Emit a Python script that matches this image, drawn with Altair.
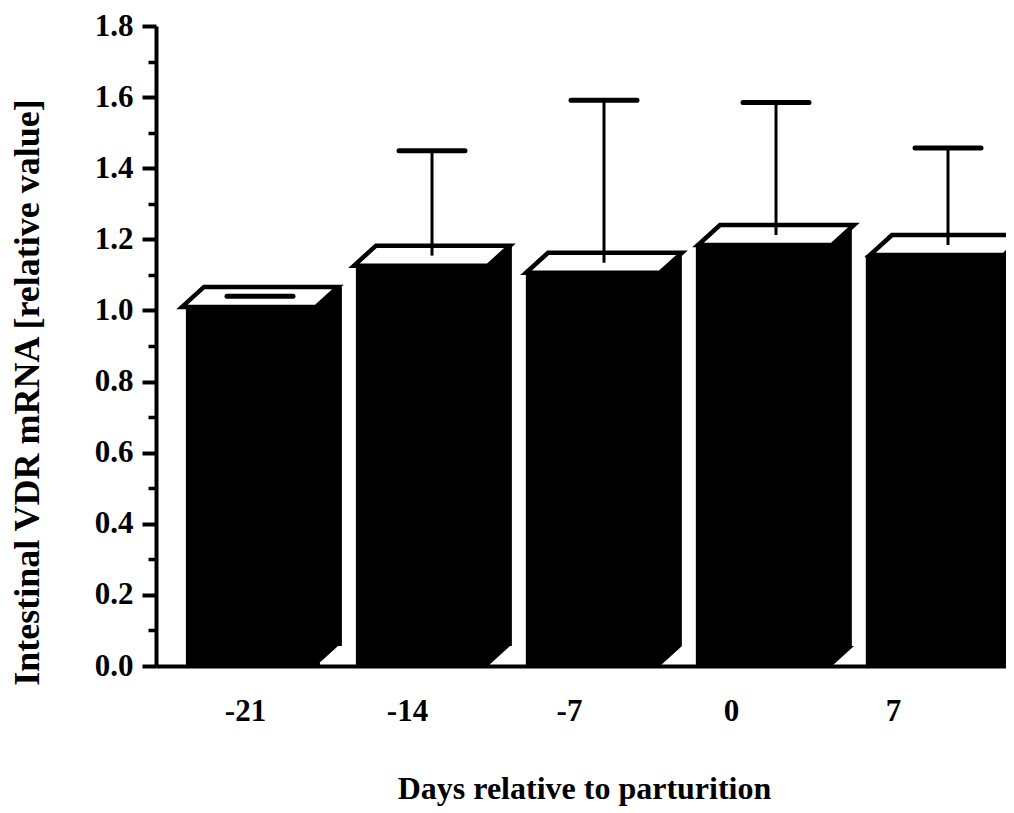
import altair as alt
import pandas as pd

# ---- data ----
days = [-21, -14, -7, 0, 7]
vdr_mean = [1.01, 1.126, 1.106, 1.184, 1.156]
vdr_upper = [1.012, 1.421, 1.563, 1.557, 1.429]

y_ticks = [0.0, 0.2, 0.4, 0.6, 0.8, 1.0, 1.2, 1.4, 1.6, 1.8]
y_minor = [0.1, 0.3, 0.5, 0.7, 0.9, 1.1, 1.3, 1.5, 1.7]

df = pd.DataFrame({"day": days, "mean": vdr_mean, "upper": vdr_upper,
                   "zero": [0.0] * len(days)})

FONT = "Liberation Serif"
BAR_W = 134
DX, DY = 22, 20

x_bar = alt.Scale(domain=[-24.785, 9.808], nice=False, zero=False)
x_lab = alt.Scale(domain=[-24.846, 11.882], nice=False, zero=False)
y_sc = alt.Scale(domain=[0, 1.8], nice=False, zero=True)

base = alt.Chart(df)
X = alt.X("day:Q", scale=x_bar, axis=None)
Yn = alt.Y("mean:Q", scale=y_sc, axis=None)

major_axis = alt.Axis(
    values=y_ticks, format=".1f", orient="left", grid=False, zindex=1,
    tickSize=14, tickWidth=4, tickColor="black",
    domainWidth=4, domainColor="black",
    labelFont=FONT, labelFontSize=31, labelFontWeight="bold", labelColor="black",
    labelPadding=9, labelFlush=False, labelOverlap=False,
    title="Intestinal VDR mRNA [relative value]",
    titleFont=FONT, titleFontSize=36, titleFontWeight="bold", titleColor="black",
    titleX=-129, titleY=366, titleAngle=270, titleAlign="center",
    titleBaseline="middle",
)

minor_axis = alt.Axis(
    values=y_minor, orient="left", grid=False, zindex=1, domain=False,
    labels=False, tickSize=8, tickWidth=3.5, tickColor="black", title="",
)

x_axis = alt.Axis(
    values=days, orient="bottom", grid=False, zindex=1, ticks=False,
    domainWidth=4, domainColor="black",
    labelExpr="'' + datum.value",
    labelFont=FONT, labelFontSize=31, labelFontWeight="bold", labelColor="black",
    labelPadding=30, labelFlush=False,
    title="Days relative to parturition",
    titleFont=FONT, titleFontSize=32, titleFontWeight="bold", titleColor="black",
    titleX=428, titleY=122, titleAlign="center", titleBaseline="middle",
)

back = base.mark_bar(width=BAR_W, color="black", xOffset=DX, yOffset=-DY,
                     y2Offset=-DY, clip=True).encode(x=X, y=Yn, y2="zero:Q")

tri = base.mark_point(shape="M 60 0 L 67 0 L 89 -20 L 60 -20 Z", size=4,
                      filled=True, color="black", opacity=1, clip=True).encode(
    x=X, y=alt.Y("zero:Q", scale=y_sc, axis=None))

front = base.mark_bar(width=BAR_W, color="black", clip=True).encode(
    x=X, y=alt.Y("mean:Q", scale=y_sc, axis=major_axis), y2="zero:Q")

face = base.mark_point(shape="M -67 0 L 67 0 L 89 -20 L -45 -20 Z", size=4,
                       filled=True, fill="white", stroke="black", strokeWidth=4.5,
                       strokeJoin="miter", opacity=1, clip=True).encode(x=X, y=Yn)

stem = base.mark_rule(color="black", strokeWidth=3, xOffset=11, yOffset=-10,
                      y2Offset=-10, clip=True).encode(x=X, y=Yn, y2="upper:Q")

cap = base.mark_point(shape="M -33 0 L 33 0", size=4, filled=False,
                      stroke="black", strokeWidth=5, strokeCap="round", opacity=1,
                      xOffset=11, yOffset=-10, clip=True).encode(
    x=X, y=alt.Y("upper:Q", scale=y_sc, axis=None))

labels = base.mark_point(opacity=0).encode(
    x=alt.X("day:Q", scale=x_lab, axis=x_axis), y=Yn)

minor = base.mark_point(opacity=0).encode(
    y=alt.Y("mean:Q", scale=y_sc, axis=minor_axis))

chart = alt.layer(back, tri, front, face, stem, cap, labels, minor).resolve_scale(
    x="independent").resolve_axis(y="independent").properties(
    width=850, height=640,
    autosize=alt.AutoSizeParams(type="none"),
    padding={"left": 148, "top": 18, "right": 0, "bottom": 146},
).configure_view(stroke=None)

chart.save("out.html", embed_options={"renderer": "svg", "actions": False})
